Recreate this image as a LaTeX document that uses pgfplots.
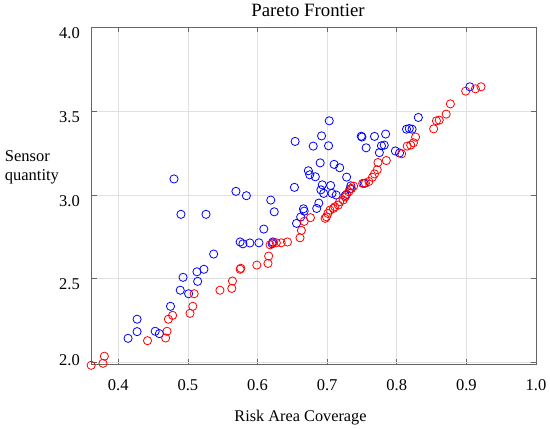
\documentclass[border=0pt]{standalone}
\usepackage{fontspec}
\setmainfont{Liberation Serif}
\usepackage{pgfplots}
\pgfplotsset{compat=1.18}
\definecolor{mblue}{RGB}{0,0,255}
\definecolor{mred}{RGB}{255,0,0}
\begin{document}
\begin{tikzpicture}
\path[use as bounding box] (-91.7pt,-64.7pt) rectangle (458.3pt,364.3pt);
\begin{axis}[
  at={(0,0)}, anchor=south west,
  width=444.3pt, height=337pt, scale only axis,
  xmin=0.3618, xmax=1.0, ymin=1.989, ymax=4.0,
  clip=false,
  xtick={0.4,0.5,0.6,0.7,0.8,0.9,1.0},
  ytick={2.5,3.0,3.5,4.0},
  extra y ticks={2.0},
  extra y tick style={grid=major, yticklabel style={anchor=east, yshift=2pt}},
  /pgf/number format/assume math mode=true,
  /pgf/number format/.cd, fixed, fixed zerofill, precision=1, /pgfplots/.cd,
  grid=major,
  major grid style={draw=black!12, line width=0.6pt},
  tick align=inside,
  major tick length=5pt,
  tick style={draw=black!60, line width=0.6pt},
  axis line style={draw=black!60, line width=0.8pt},
  ticklabel style={font=\fontsize{16.5}{19}\selectfont, inner sep=0pt},
  xticklabel style={anchor=base, yshift=-25.7pt},
  yticklabel style={anchor=north east, xshift=-11.7pt},
  title={Pareto Frontier},
  title style={font=\fontsize{18.8}{22}\selectfont, at={(axis description cs:0.487,1)}, anchor=base, yshift=4.4pt, inner sep=0pt},
  xlabel={Risk Area Coverage},
  xlabel style={font=\fontsize{16.3}{19}\selectfont, at={(axis description cs:0.47,0)}, anchor=base, yshift=-56.7pt, inner sep=0pt},
  ylabel={Sensor\\quantity},
  ylabel style={rotate=-90, align=left, font=\fontsize{16.5}{19}\selectfont, at={(axis description cs:-0.1958,0.6338)}, anchor=north west, inner sep=0pt},
]
\addplot[only marks, mark=o, mark size=4.1pt, mark options={draw=mblue, line width=0.8pt}] coordinates {
(0.905,3.645) (0.831,3.462) (0.814,3.392) (0.818,3.396) (0.822,3.392)
(0.784,3.363) (0.768,3.349) (0.749,3.350) (0.750,3.345) (0.756,3.281)
(0.782,3.297) (0.778,3.293) (0.775,3.252) (0.798,3.262) (0.804,3.250)
(0.703,3.442) (0.692,3.352) (0.702,3.293) (0.680,3.291) (0.654,3.319)
(0.690,3.191) (0.710,3.182) (0.718,3.162) (0.673,3.144) (0.675,3.120)
(0.683,3.108) (0.728,3.106) (0.480,3.095) (0.653,3.045) (0.693,3.060)
(0.705,3.056) (0.691,3.030) (0.695,3.009) (0.707,3.009) (0.713,2.999)
(0.734,3.054) (0.733,3.036) (0.753,3.069) (0.726,2.997) (0.569,3.021)
(0.584,2.995) (0.619,2.969) (0.624,2.899) (0.490,2.884) (0.526,2.884)
(0.688,2.951) (0.685,2.919) (0.666,2.917) (0.667,2.903) (0.662,2.868)
(0.656,2.830) (0.609,2.796) (0.575,2.719) (0.579,2.708) (0.589,2.713)
(0.602,2.714) (0.622,2.719) (0.621,2.708) (0.537,2.647) (0.523,2.556)
(0.513,2.541) (0.514,2.484) (0.493,2.508) (0.489,2.431) (0.501,2.410)
(0.475,2.335) (0.427,2.258) (0.427,2.184) (0.414,2.144) (0.453,2.186)
(0.459,2.172)
};
\addplot[only marks, mark=o, mark size=4.1pt, mark options={draw=mred, line width=0.8pt}] coordinates {
(0.899,3.619) (0.913,3.633) (0.921,3.645) (0.877,3.543) (0.871,3.482)
(0.861,3.446) (0.857,3.442) (0.853,3.394) (0.827,3.345) (0.824,3.311)
(0.820,3.297) (0.815,3.291) (0.807,3.245) (0.785,3.205) (0.773,3.193)
(0.772,3.150) (0.768,3.125) (0.765,3.105) (0.760,3.080) (0.755,3.070)
(0.751,3.069) (0.738,3.052) (0.735,3.038) (0.731,3.018) (0.728,3.004)
(0.726,2.988) (0.723,2.969) (0.718,2.959) (0.716,2.939) (0.711,2.929)
(0.709,2.919) (0.704,2.909) (0.701,2.889) (0.699,2.869) (0.697,2.860)
(0.676,2.864) (0.667,2.842) (0.663,2.788) (0.661,2.744) (0.618,2.702)
(0.622,2.714) (0.627,2.714) (0.634,2.714) (0.643,2.719) (0.616,2.635)
(0.615,2.591) (0.599,2.581) (0.575,2.556) (0.576,2.562) (0.564,2.486)
(0.563,2.442) (0.546,2.431) (0.509,2.410) (0.507,2.335) (0.503,2.293)
(0.478,2.281) (0.472,2.258) (0.470,2.186) (0.468,2.146) (0.442,2.130)
(0.380,2.037) (0.378,1.995) (0.361,1.983)
};
\end{axis}
\end{tikzpicture}
\end{document}
